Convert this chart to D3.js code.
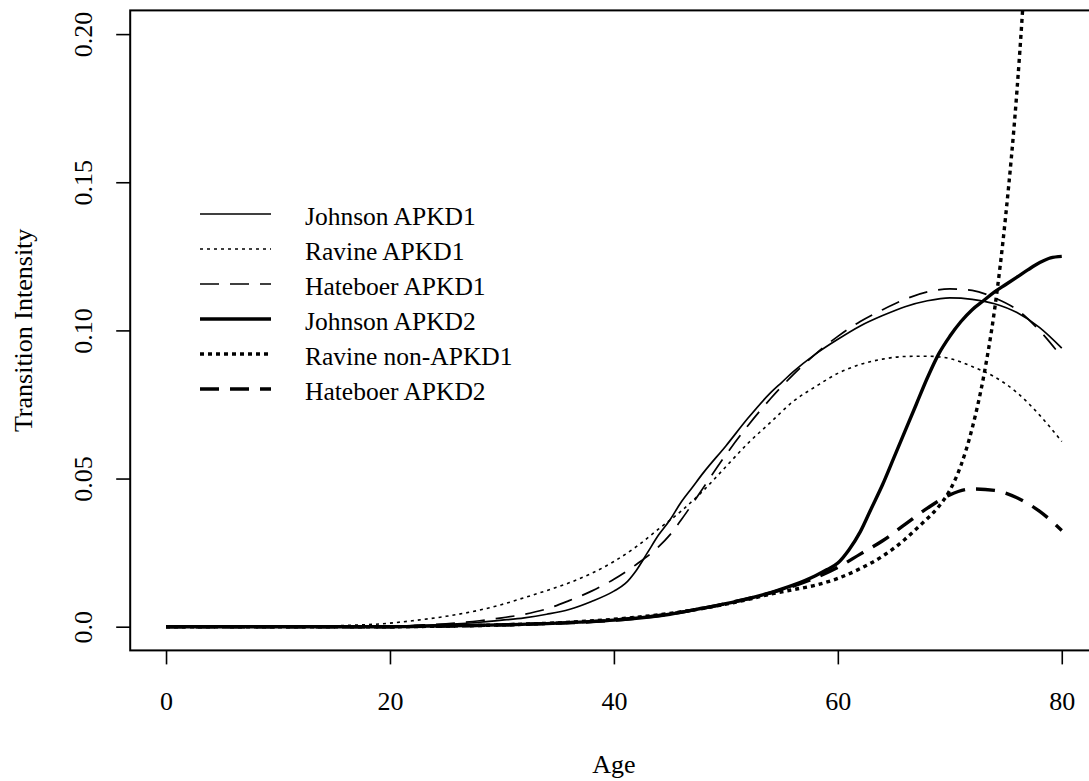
<!DOCTYPE html>
<html><head><meta charset="utf-8">
<script src="https://cdn.jsdelivr.net/npm/d3@7"></script>
<style>body{margin:0;background:#fff}svg{display:block}text{font-family:"Liberation Serif","Times New Roman",serif;fill:#000}</style>
</head><body>
<script>
const seriesNames = ["Johnson APKD1","Ravine APKD1","Hateboer APKD1","Johnson APKD2","Ravine non-APKD1","Hateboer APKD2"];
const xTicks = [0,20,40,60,80];
const yTicks = [0.0,0.05,0.10,0.15,0.20];
const yTickLabels = ["0.0","0.05","0.10","0.15","0.20"];

const johnson1Ages = [0,10,20,22,25,28,30,32,34,36,38,40,41,42,43,44,45,46,47,48,50,52,54,55,56,58,60,62,64,66,68,70,72,74,76,78,80];
const johnson1Vals = [0,0,0,0.0003,0.0008,0.0015,0.0022,0.003,0.0042,0.0058,0.0085,0.012,0.0145,0.019,0.025,0.031,0.036,0.042,0.047,0.052,0.061,0.0705,0.079,0.0825,0.086,0.092,0.097,0.1015,0.105,0.108,0.110,0.111,0.1105,0.109,0.106,0.101,0.094];

const ravine1Ages = [0,10,15,20,22,25,28,30,32,34,36,38,40,42,44,46,48,50,52,54,56,58,60,62,64,66,68,70,72,74,76,78,80];
const ravine1Vals = [0,0,0.0003,0.0012,0.002,0.0035,0.0056,0.0075,0.0098,0.0122,0.0148,0.018,0.022,0.027,0.033,0.039,0.046,0.054,0.062,0.069,0.076,0.081,0.0855,0.0885,0.0903,0.0912,0.0913,0.0905,0.0878,0.0843,0.079,0.0715,0.0625];

const hateboer1Ages = [0,10,20,22,25,28,30,32,34,36,38,40,42,44,45,46,48,50,52,54,56,58,60,62,64,66,68,70,72,74,76,78,80];
const hateboer1Vals = [0,0,0,0.0004,0.001,0.002,0.003,0.0042,0.006,0.0088,0.012,0.016,0.021,0.027,0.031,0.036,0.047,0.058,0.068,0.077,0.085,0.092,0.098,0.103,0.107,0.1105,0.113,0.114,0.1135,0.111,0.107,0.100,0.091];

const johnson2Ages = [0,10,20,25,30,35,40,45,48,50,52,54,56,58,59,60,61,62,63,64,65,66,67,68,69,70,71,72,73,74,75,76,77,78,79,80];
const johnson2Vals = [0,0,0,0.0003,0.0006,0.0012,0.0022,0.0042,0.0063,0.0078,0.0095,0.0115,0.014,0.0172,0.0192,0.0215,0.026,0.032,0.040,0.048,0.057,0.066,0.075,0.084,0.092,0.098,0.103,0.107,0.110,0.113,0.1155,0.118,0.1205,0.1228,0.1245,0.125];

const ravineNonAges = [0,10,20,25,30,35,40,45,48,50,52,54,56,58,60,62,64,66,67,68,69,70,71,72,73,74,75,76,76.5,77];
const ravineNonVals = [0,0,0,0.0002,0.0006,0.0013,0.0025,0.0045,0.0062,0.0076,0.0092,0.011,0.0125,0.014,0.0163,0.0196,0.0238,0.0295,0.033,0.0365,0.0405,0.046,0.0545,0.067,0.084,0.107,0.139,0.181,0.208,0.24];

const hateboer2Ages = [0,10,20,25,30,35,40,45,50,55,58,60,62,64,66,68,70,72,74,76,78,80];
const hateboer2Vals = [0,0,0,0.0002,0.0006,0.0012,0.0022,0.0043,0.0078,0.0125,0.0165,0.020,0.0245,0.029,0.0345,0.040,0.0445,0.0465,0.046,0.0435,0.039,0.0325];

const seriesAges = [johnson1Ages, ravine1Ages, hateboer1Ages, johnson2Ages, ravineNonAges, hateboer2Ages];
const seriesVals = [johnson1Vals, ravine1Vals, hateboer1Vals, johnson2Vals, ravineNonVals, hateboer2Vals];
const widths = [1.7,1.6,1.7,3.4,3.4,3.4];
const dashes = [null,"3,4","19,11",null,"4,4","19,11"];

const W=1089,H=781;
const svg=d3.select("body").append("svg").attr("width",W).attr("height",H);
const x=d3.scaleLinear().domain([-3.2,83.2]).range([130.2,1097.6]);
const y=d3.scaleLinear().domain([-0.008,0.208]).range([650.4,10.4]);

svg.append("defs").append("clipPath").attr("id","clip").append("rect")
 .attr("x",x(-3.2)).attr("y",y(0.208)).attr("width",x(83.2)-x(-3.2)).attr("height",y(-0.008)-y(0.208));

svg.append("rect").attr("x",x(-3.2)).attr("y",y(0.208)).attr("width",x(83.2)-x(-3.2)).attr("height",y(-0.008)-y(0.208))
 .attr("fill","none").attr("stroke","#000").attr("stroke-width",2);

const xa=svg.append("g").attr("transform",`translate(0,${y(-0.008)})`)
 .call(d3.axisBottom(x).tickValues(xTicks).tickSize(14).tickFormat(d3.format("d")));
xa.select(".domain").remove();
xa.selectAll("line").attr("stroke-width",1.6);
xa.selectAll("text").attr("font-size",26).attr("font-family","Liberation Serif")
 .attr("y",60).attr("dy",0);

const ya=svg.append("g").attr("transform",`translate(${x(-3.2)},0)`)
 .call(d3.axisLeft(y).tickValues(yTicks).tickSize(14).tickFormat((d,i)=>yTickLabels[i]));
ya.select(".domain").remove();
ya.selectAll("line").attr("stroke-width",1.6);
ya.selectAll("text").attr("font-size",26).attr("font-family","Liberation Serif")
 .attr("x",null).attr("dy",null).attr("text-anchor","middle")
 .attr("transform","translate(-38,0) rotate(-90)");

svg.append("text").attr("transform",`translate(32,${(y(-0.008)+y(0.208))/2}) rotate(-90)`).attr("text-anchor","middle")
 .attr("font-size",26).text("Transition Intensity");
svg.append("text").attr("x",(x(-3.2)+x(83.2))/2).attr("y",773).attr("text-anchor","middle").attr("font-size",26).text("Age");

const line=d3.line().x(d=>x(d[0])).y(d=>y(d[1])).curve(d3.curveMonotoneX);
const g=svg.append("g").attr("clip-path","url(#clip)");
seriesNames.forEach((n,i)=>{
  const pts=seriesAges[i].map((a,j)=>[a,seriesVals[i][j]]);
  g.append("path").datum(pts).attr("d",line).attr("fill","none").attr("stroke","#000")
   .attr("stroke-width",widths[i]).attr("stroke-dasharray",dashes[i]);
});

const leg=svg.append("g");
seriesNames.forEach((n,i)=>{
  const yy=214+i*35;
  leg.append("line").attr("x1",200).attr("x2",271).attr("y1",yy).attr("y2",yy)
   .attr("stroke","#000").attr("stroke-width",widths[i]).attr("stroke-dasharray",dashes[i]);
  leg.append("text").attr("x",305).attr("y",yy+11).attr("font-size",25.5).text(n);
});
</script>
</body></html>
